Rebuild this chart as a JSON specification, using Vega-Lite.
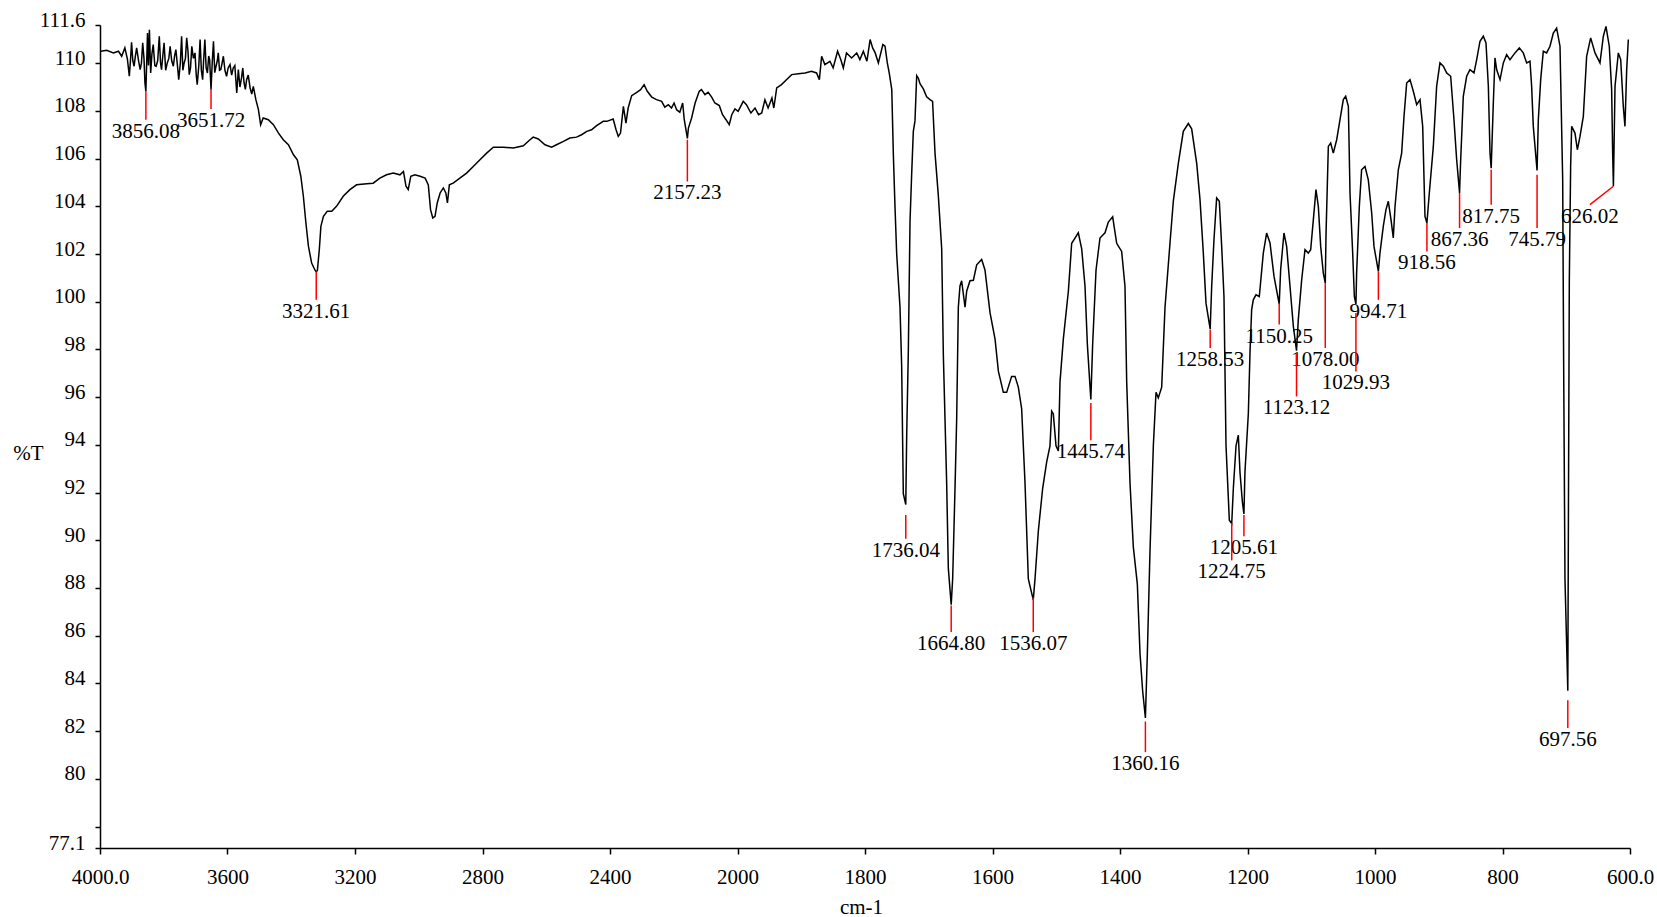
{
  "$schema": "https://vega.github.io/schema/vega-lite/v6.json",
  "width": 1530,
  "height": 823,
  "autosize": "none",
  "padding": {"left": 100, "top": 25, "right": 27, "bottom": 69},
  "background": "white",
  "config": {
    "view": {"stroke": null},
    "font": "Liberation Serif",
    "axis": {
      "grid": false,
      "labelFont": "Liberation Serif",
      "labelFontSize": 21,
      "labelColor": "black",
      "titleFont": "Liberation Serif",
      "titleFontSize": 21,
      "titleFontWeight": "normal",
      "titleColor": "black",
      "domainColor": "black",
      "tickColor": "black",
      "domainWidth": 1.5,
      "tickWidth": 1.5,
      "labelOverlap": false,
      "labelFlush": false
    }
  },
  "datasets": {
    "spectrum": [
      {"wn":4000,"T":110.5},{"wn":3997,"T":110.5},{"wn":3979,"T":110.54},{"wn":3958,"T":110.43},{"wn":3942,"T":110.5},{"wn":3932,"T":110.29},{"wn":3922,"T":110.64},{"wn":3914,"T":110.17},{"wn":3908,"T":109.45},{"wn":3904,"T":110.2},{"wn":3901,"T":110.87},{"wn":3897,"T":110.1},{"wn":3893,"T":109.87},{"wn":3889,"T":110.3},{"wn":3885,"T":110.64},{"wn":3879,"T":110.1},{"wn":3874,"T":109.73},{"wn":3870,"T":110.0},{"wn":3866,"T":110.85},{"wn":3862,"T":110.2},{"wn":3859,"T":109.17},{"wn":3856.08,"T":108.82},{"wn":3851,"T":111.26},{"wn":3848,"T":109.9},{"wn":3845,"T":111.4},{"wn":3841,"T":109.59},{"wn":3837,"T":110.4},{"wn":3833,"T":110.78},{"wn":3828,"T":109.9},{"wn":3824,"T":109.87},{"wn":3819,"T":110.1},{"wn":3814,"T":111.13},{"wn":3810,"T":110.0},{"wn":3807,"T":109.73},{"wn":3803,"T":110.3},{"wn":3799,"T":110.85},{"wn":3794,"T":109.7},{"wn":3789,"T":110.01},{"wn":3784,"T":110.2},{"wn":3780,"T":110.71},{"wn":3775,"T":110.1},{"wn":3770,"T":109.87},{"wn":3766,"T":110.3},{"wn":3762,"T":110.57},{"wn":3757,"T":109.9},{"wn":3753,"T":109.31},{"wn":3748,"T":110.0},{"wn":3744,"T":111.13},{"wn":3740,"T":109.7},{"wn":3736,"T":110.01},{"wn":3732,"T":110.2},{"wn":3728,"T":111.06},{"wn":3724,"T":110.5},{"wn":3720,"T":109.52},{"wn":3716,"T":109.8},{"wn":3712,"T":110.71},{"wn":3707,"T":110.2},{"wn":3702,"T":110.43},{"wn":3698,"T":109.5},{"wn":3695,"T":109.1},{"wn":3690,"T":109.9},{"wn":3686,"T":110.99},{"wn":3682,"T":109.7},{"wn":3678,"T":109.31},{"wn":3675,"T":110.1},{"wn":3671,"T":110.99},{"wn":3667,"T":109.8},{"wn":3663,"T":109.59},{"wn":3659,"T":110.3},{"wn":3656,"T":110.15},{"wn":3651.72,"T":108.89},{"wn":3648,"T":110.0},{"wn":3644,"T":110.92},{"wn":3640,"T":109.6},{"wn":3636,"T":109.87},{"wn":3632,"T":110.1},{"wn":3629,"T":110.43},{"wn":3625,"T":109.7},{"wn":3621,"T":109.73},{"wn":3617,"T":110.0},{"wn":3613,"T":110.29},{"wn":3608,"T":109.7},{"wn":3603,"T":109.45},{"wn":3598,"T":109.8},{"wn":3592,"T":109.94},{"wn":3587,"T":109.5},{"wn":3582,"T":109.8},{"wn":3577,"T":109.9},{"wn":3571,"T":108.75},{"wn":3566,"T":109.73},{"wn":3561,"T":109.0},{"wn":3556,"T":109.38},{"wn":3552,"T":109.8},{"wn":3548,"T":109.17},{"wn":3544,"T":108.9},{"wn":3540,"T":109.31},{"wn":3535,"T":109.5},{"wn":3529,"T":108.96},{"wn":3524,"T":108.7},{"wn":3519,"T":109.03},{"wn":3511,"T":108.47},{"wn":3503,"T":108.05},{"wn":3496,"T":107.42},{"wn":3488,"T":107.7},{"wn":3472,"T":107.63},{"wn":3456,"T":107.42},{"wn":3440,"T":107.07},{"wn":3425,"T":106.79},{"wn":3409,"T":106.58},{"wn":3393,"T":106.16},{"wn":3381,"T":105.95},{"wn":3370,"T":105.26},{"wn":3362,"T":104.42},{"wn":3354,"T":103.3},{"wn":3346,"T":102.32},{"wn":3336,"T":101.62},{"wn":3325,"T":101.31},{"wn":3321.61,"T":101.25},{"wn":3318,"T":101.31},{"wn":3312,"T":102.18},{"wn":3307,"T":103.16},{"wn":3299,"T":103.58},{"wn":3287,"T":103.79},{"wn":3273,"T":103.79},{"wn":3258,"T":104.0},{"wn":3237,"T":104.42},{"wn":3216,"T":104.7},{"wn":3195,"T":104.9},{"wn":3163,"T":104.95},{"wn":3143,"T":104.97},{"wn":3122,"T":105.18},{"wn":3101,"T":105.32},{"wn":3080,"T":105.39},{"wn":3059,"T":105.32},{"wn":3048,"T":105.46},{"wn":3040,"T":104.84},{"wn":3033,"T":104.7},{"wn":3025,"T":105.26},{"wn":3012,"T":105.32},{"wn":2996,"T":105.26},{"wn":2980,"T":105.18},{"wn":2970,"T":104.9},{"wn":2963,"T":103.86},{"wn":2956,"T":103.51},{"wn":2949,"T":103.58},{"wn":2942,"T":104.14},{"wn":2933,"T":104.56},{"wn":2923,"T":104.77},{"wn":2915,"T":104.56},{"wn":2910,"T":104.14},{"wn":2904,"T":104.9},{"wn":2892,"T":104.97},{"wn":2871,"T":105.18},{"wn":2850,"T":105.39},{"wn":2829,"T":105.67},{"wn":2808,"T":105.95},{"wn":2787,"T":106.23},{"wn":2766,"T":106.48},{"wn":2735,"T":106.48},{"wn":2703,"T":106.44},{"wn":2672,"T":106.54},{"wn":2651,"T":106.79},{"wn":2641,"T":106.9},{"wn":2625,"T":106.82},{"wn":2604,"T":106.58},{"wn":2583,"T":106.48},{"wn":2568,"T":106.58},{"wn":2546,"T":106.72},{"wn":2526,"T":106.86},{"wn":2505,"T":106.9},{"wn":2489,"T":107.0},{"wn":2473,"T":107.14},{"wn":2458,"T":107.21},{"wn":2442,"T":107.38},{"wn":2421,"T":107.56},{"wn":2410,"T":107.56},{"wn":2390,"T":107.66},{"wn":2381,"T":107.21},{"wn":2374,"T":106.93},{"wn":2367,"T":107.07},{"wn":2358,"T":108.19},{"wn":2350,"T":107.49},{"wn":2343,"T":108.12},{"wn":2332,"T":108.64},{"wn":2316,"T":108.78},{"wn":2304,"T":108.89},{"wn":2293,"T":109.1},{"wn":2283,"T":108.82},{"wn":2269,"T":108.58},{"wn":2254,"T":108.47},{"wn":2238,"T":108.4},{"wn":2228,"T":108.16},{"wn":2217,"T":108.26},{"wn":2207,"T":108.12},{"wn":2199,"T":108.33},{"wn":2191,"T":108.05},{"wn":2181,"T":107.94},{"wn":2172,"T":108.33},{"wn":2167,"T":107.63},{"wn":2157.23,"T":106.85},{"wn":2154,"T":107.28},{"wn":2144,"T":107.7},{"wn":2133,"T":108.33},{"wn":2120,"T":108.82},{"wn":2113,"T":108.89},{"wn":2102,"T":108.68},{"wn":2092,"T":108.78},{"wn":2081,"T":108.58},{"wn":2071,"T":108.33},{"wn":2057,"T":108.22},{"wn":2047,"T":107.84},{"wn":2036,"T":107.63},{"wn":2026,"T":107.42},{"wn":2018,"T":107.84},{"wn":2008,"T":108.08},{"wn":1999,"T":107.98},{"wn":1991,"T":108.4},{"wn":1986,"T":108.26},{"wn":1979,"T":107.91},{"wn":1972.5,"T":108.12},{"wn":1967,"T":107.84},{"wn":1962,"T":107.91},{"wn":1957,"T":108.47},{"wn":1952,"T":108.12},{"wn":1946,"T":108.54},{"wn":1943,"T":108.12},{"wn":1938.5,"T":108.96},{"wn":1931,"T":109.1},{"wn":1922,"T":109.34},{"wn":1915,"T":109.52},{"wn":1904.5,"T":109.56},{"wn":1894,"T":109.59},{"wn":1884,"T":109.66},{"wn":1876,"T":109.59},{"wn":1871.6,"T":109.31},{"wn":1868,"T":110.29},{"wn":1863,"T":109.94},{"wn":1855,"T":110.08},{"wn":1850,"T":109.8},{"wn":1843,"T":110.5},{"wn":1838,"T":110.15},{"wn":1834,"T":109.8},{"wn":1829,"T":110.43},{"wn":1821,"T":110.22},{"wn":1813,"T":110.43},{"wn":1808,"T":110.15},{"wn":1802.6,"T":110.5},{"wn":1797,"T":110.08},{"wn":1792,"T":110.99},{"wn":1788,"T":110.64},{"wn":1784,"T":110.43},{"wn":1779,"T":110.01},{"wn":1772,"T":110.78},{"wn":1768.6,"T":110.71},{"wn":1765,"T":110.01},{"wn":1762,"T":109.59},{"wn":1758,"T":108.89},{"wn":1755.6,"T":106.24},{"wn":1753,"T":104.01},{"wn":1750.3,"T":102.0},{"wn":1745.1,"T":99.77},{"wn":1742.5,"T":97.31},{"wn":1739.9,"T":91.95},{"wn":1736.04,"T":91.5},{"wn":1734.6,"T":94.41},{"wn":1732,"T":97.98},{"wn":1729.4,"T":103.34},{"wn":1726.8,"T":105.35},{"wn":1724.2,"T":107.14},{"wn":1721.6,"T":107.58},{"wn":1718.9,"T":109.48},{"wn":1716.3,"T":109.37},{"wn":1713.7,"T":109.14},{"wn":1708.5,"T":108.92},{"wn":1703.3,"T":108.59},{"wn":1698,"T":108.47},{"wn":1694,"T":108.4},{"wn":1690.2,"T":106.24},{"wn":1685,"T":104.46},{"wn":1679.7,"T":102.22},{"wn":1677.1,"T":97.76},{"wn":1671.9,"T":92.4},{"wn":1669.3,"T":88.83},{"wn":1664.8,"T":87.3},{"wn":1662.5,"T":88.38},{"wn":1658.8,"T":92.18},{"wn":1656.2,"T":95.08},{"wn":1653.6,"T":99.77},{"wn":1651,"T":100.66},{"wn":1648.4,"T":100.88},{"wn":1643.1,"T":99.77},{"wn":1640.5,"T":100.44},{"wn":1635.3,"T":100.88},{"wn":1630,"T":100.9},{"wn":1624.8,"T":101.55},{"wn":1617,"T":101.77},{"wn":1611.8,"T":101.33},{"wn":1603.9,"T":99.54},{"wn":1596,"T":98.43},{"wn":1590.8,"T":97.09},{"wn":1583,"T":96.2},{"wn":1577.8,"T":96.2},{"wn":1570,"T":96.87},{"wn":1564.7,"T":96.87},{"wn":1559.5,"T":96.42},{"wn":1554.3,"T":95.52},{"wn":1549,"T":92.4},{"wn":1543.8,"T":88.38},{"wn":1536.07,"T":87.5},{"wn":1533.3,"T":88.38},{"wn":1528.1,"T":90.39},{"wn":1521.3,"T":92.18},{"wn":1515,"T":93.29},{"wn":1509.8,"T":93.96},{"wn":1507.2,"T":95.41},{"wn":1504.6,"T":95.3},{"wn":1500.4,"T":93.96},{"wn":1496.7,"T":93.74},{"wn":1494.1,"T":96.64},{"wn":1488.9,"T":98.43},{"wn":1481,"T":100.44},{"wn":1475.8,"T":102.45},{"wn":1470.6,"T":102.67},{"wn":1465.4,"T":102.89},{"wn":1460.1,"T":102.22},{"wn":1454.9,"T":100.66},{"wn":1451.2,"T":98.21},{"wn":1445.74,"T":95.9},{"wn":1442.9,"T":98.21},{"wn":1437.6,"T":101.33},{"wn":1431.4,"T":102.67},{"wn":1423.5,"T":102.89},{"wn":1418.3,"T":103.34},{"wn":1411.5,"T":103.56},{"wn":1405.2,"T":102.45},{"wn":1397.4,"T":102.11},{"wn":1392.2,"T":100.66},{"wn":1389.5,"T":96.64},{"wn":1384.3,"T":92.4},{"wn":1379.1,"T":89.72},{"wn":1372.8,"T":88.16},{"wn":1368.6,"T":85.25},{"wn":1364.5,"T":83.69},{"wn":1360.16,"T":82.55},{"wn":1357.1,"T":85.25},{"wn":1353,"T":89.5},{"wn":1347.7,"T":93.96},{"wn":1343.5,"T":96.2},{"wn":1339.9,"T":95.97},{"wn":1334.6,"T":96.42},{"wn":1329.4,"T":99.77},{"wn":1321.6,"T":102.45},{"wn":1316.3,"T":104.23},{"wn":1308.5,"T":105.8},{"wn":1300.7,"T":107.14},{"wn":1292.8,"T":107.47},{"wn":1287.6,"T":107.25},{"wn":1279.7,"T":105.8},{"wn":1274.5,"T":104.28},{"wn":1269.3,"T":102.04},{"wn":1265.1,"T":99.94},{"wn":1258.53,"T":98.85},{"wn":1256.2,"T":100.64},{"wn":1252.6,"T":102.6},{"wn":1248.4,"T":104.35},{"wn":1244.2,"T":104.21},{"wn":1240.5,"T":102.32},{"wn":1236.9,"T":100.22},{"wn":1233.7,"T":93.96},{"wn":1228.5,"T":90.84},{"wn":1224.75,"T":90.7},{"wn":1222.2,"T":92.18},{"wn":1218,"T":93.96},{"wn":1214.4,"T":94.41},{"wn":1211.8,"T":92.85},{"wn":1208,"T":91.6},{"wn":1205.61,"T":91.1},{"wn":1204,"T":92.85},{"wn":1198.7,"T":95.3},{"wn":1196.1,"T":97.85},{"wn":1193.5,"T":99.66},{"wn":1190.9,"T":100.08},{"wn":1186.7,"T":100.29},{"wn":1181.5,"T":100.22},{"wn":1175.2,"T":102.04},{"wn":1170,"T":102.88},{"wn":1164.7,"T":102.46},{"wn":1158.4,"T":101.06},{"wn":1150.25,"T":99.9},{"wn":1148,"T":101.34},{"wn":1142.8,"T":102.88},{"wn":1138.6,"T":102.32},{"wn":1133.3,"T":100.64},{"wn":1128.1,"T":98.97},{"wn":1123.12,"T":97.95},{"wn":1120.3,"T":99.25},{"wn":1115,"T":100.92},{"wn":1109.8,"T":102.18},{"wn":1104.6,"T":102.04},{"wn":1100.9,"T":102.18},{"wn":1096.7,"T":103.44},{"wn":1092.6,"T":104.7},{"wn":1088.9,"T":104.0},{"wn":1085.2,"T":102.32},{"wn":1081.1,"T":101.2},{"wn":1078,"T":100.78},{"wn":1076.9,"T":102.74},{"wn":1073.2,"T":106.51},{"wn":1069.5,"T":106.65},{"wn":1065.4,"T":106.23},{"wn":1060.1,"T":106.79},{"wn":1054.9,"T":107.63},{"wn":1049.7,"T":108.47},{"wn":1046,"T":108.61},{"wn":1041.8,"T":108.19},{"wn":1039.2,"T":104.56},{"wn":1035,"T":102.04},{"wn":1032.4,"T":100.22},{"wn":1029.93,"T":99.9},{"wn":1028.8,"T":101.2},{"wn":1024.6,"T":103.99},{"wn":1021,"T":105.53},{"wn":1015.7,"T":105.67},{"wn":1010.5,"T":105.11},{"wn":1005.2,"T":103.72},{"wn":1001.6,"T":102.32},{"wn":994.71,"T":101.27},{"wn":992.2,"T":102.04},{"wn":987,"T":103.16},{"wn":982.8,"T":103.86},{"wn":979.1,"T":104.21},{"wn":974.9,"T":103.44},{"wn":971.3,"T":102.67},{"wn":968.6,"T":103.99},{"wn":963.4,"T":105.53},{"wn":958.2,"T":106.23},{"wn":954.5,"T":107.77},{"wn":950.3,"T":109.17},{"wn":945.1,"T":109.31},{"wn":939.9,"T":108.82},{"wn":934.6,"T":108.26},{"wn":929.4,"T":108.47},{"wn":925.2,"T":107.35},{"wn":921.6,"T":103.58},{"wn":918.56,"T":103.3},{"wn":914.8,"T":104.56},{"wn":908.5,"T":106.51},{"wn":903.3,"T":109.03},{"wn":898.1,"T":110.01},{"wn":892.8,"T":109.87},{"wn":887.6,"T":109.59},{"wn":881.3,"T":109.45},{"wn":876.1,"T":107.63},{"wn":871.9,"T":105.95},{"wn":867.36,"T":104.56},{"wn":866,"T":105.67},{"wn":861.5,"T":108.61},{"wn":856.2,"T":109.45},{"wn":851,"T":109.73},{"wn":844.7,"T":109.59},{"wn":840.5,"T":110.15},{"wn":835.3,"T":110.92},{"wn":830.1,"T":111.13},{"wn":825.9,"T":110.85},{"wn":822.2,"T":109.03},{"wn":819.6,"T":106.23},{"wn":817.75,"T":105.6},{"wn":814.4,"T":108.33},{"wn":811.8,"T":110.22},{"wn":809.2,"T":109.73},{"wn":803.9,"T":109.31},{"wn":798.7,"T":110.01},{"wn":793.5,"T":110.36},{"wn":788.3,"T":110.15},{"wn":780.4,"T":110.43},{"wn":773.6,"T":110.64},{"wn":767.4,"T":110.43},{"wn":762.1,"T":110.01},{"wn":756.9,"T":110.08},{"wn":754.3,"T":109.03},{"wn":751.7,"T":107.35},{"wn":745.79,"T":105.5},{"wn":743.8,"T":107.63},{"wn":740.1,"T":109.31},{"wn":736,"T":110.5},{"wn":730.8,"T":110.43},{"wn":725.5,"T":110.71},{"wn":720.3,"T":111.26},{"wn":715.1,"T":111.47},{"wn":709.8,"T":110.71},{"wn":705.6,"T":105.13},{"wn":704.1,"T":97.53},{"wn":702,"T":88.38},{"wn":697.56,"T":83.69},{"wn":696.5,"T":91.73},{"wn":695.2,"T":100.88},{"wn":693.1,"T":105.7},{"wn":691.5,"T":107.35},{"wn":686.3,"T":107.07},{"wn":682.6,"T":106.37},{"wn":678.4,"T":106.93},{"wn":673.2,"T":107.77},{"wn":668,"T":110.29},{"wn":661.7,"T":111.06},{"wn":654.9,"T":110.43},{"wn":647.1,"T":110.01},{"wn":641.8,"T":111.13},{"wn":637.7,"T":111.54},{"wn":632.5,"T":110.71},{"wn":628.8,"T":108.89},{"wn":627.2,"T":106.23},{"wn":626.02,"T":104.84},{"wn":623.5,"T":109.03},{"wn":618.3,"T":110.43},{"wn":614.6,"T":110.15},{"wn":610.5,"T":108.19},{"wn":607.9,"T":107.35},{"wn":605.2,"T":109.73},{"wn":602.6,"T":110.99}
    ],
    "peaks": [
      {"wn":3856.08,"T":108.82,"wn2":3856.08,"T2":107.63,"label":"3856.08"},
      {"wn":3651.72,"T":108.89,"wn2":3651.72,"T2":108.08,"label":"3651.72"},
      {"wn":3321.61,"T":101.27,"wn2":3321.61,"T2":100.08,"label":"3321.61"},
      {"wn":2157.23,"T":106.79,"wn2":2157.23,"T2":105.04,"label":"2157.23"},
      {"wn":1736.04,"T":91.06,"wn2":1736.04,"T2":90.06,"label":"1736.04"},
      {"wn":1664.80,"T":87.27,"wn2":1664.80,"T2":86.15,"label":"1664.80"},
      {"wn":1536.07,"T":87.6,"wn2":1536.07,"T2":86.15,"label":"1536.07"},
      {"wn":1445.74,"T":95.75,"wn2":1445.74,"T2":94.19,"label":"1445.74"},
      {"wn":1360.16,"T":82.4,"wn2":1360.16,"T2":81.12,"label":"1360.16"},
      {"wn":1258.53,"T":98.82,"wn2":1258.53,"T2":98.06,"label":"1258.53"},
      {"wn":1224.75,"T":90.72,"wn2":1224.75,"T2":89.16,"label":"1224.75"},
      {"wn":1205.61,"T":91.06,"wn2":1205.61,"T2":90.17,"label":"1205.61"},
      {"wn":1150.25,"T":99.94,"wn2":1150.25,"T2":99.04,"label":"1150.25"},
      {"wn":1123.12,"T":97.85,"wn2":1123.12,"T2":96.03,"label":"1123.12"},
      {"wn":1078.00,"T":100.78,"wn2":1078.00,"T2":98.06,"label":"1078.00"},
      {"wn":1029.93,"T":99.53,"wn2":1029.93,"T2":97.08,"label":"1029.93"},
      {"wn":994.71,"T":101.27,"wn2":994.71,"T2":100.08,"label":"994.71"},
      {"wn":918.56,"T":103.3,"wn2":918.56,"T2":102.11,"label":"918.56"},
      {"wn":867.36,"T":104.56,"wn2":867.36,"T2":103.09,"label":"867.36"},
      {"wn":817.75,"T":105.53,"wn2":817.75,"T2":104.07,"label":"817.75"},
      {"wn":745.79,"T":105.32,"wn2":745.79,"T2":103.09,"label":"745.79"},
      {"wn":697.56,"T":83.29,"wn2":697.56,"T2":82.13,"label":"697.56"},
      {"wn":626.02,"T":104.84,"wn2":662.8,"T2":104.07,"label":"626.02"}
    ]
  },
  "layer": [
    {
      "data": {"name": "peaks"},
      "mark": {"type": "text", "baseline": "top", "align": "center", "dy": 1, "fontSize": 21, "font": "Liberation Serif", "color": "black"},
      "encoding": {
        "x": {"field": "wn2", "type": "quantitative"},
        "y": {"field": "T2", "type": "quantitative"},
        "text": {"field": "label", "type": "nominal"}
      }
    },
    {
      "data": {"name": "spectrum"},
      "mark": {"type": "line", "color": "black", "strokeWidth": 1.5, "interpolate": "linear"},
      "encoding": {
        "x": {
          "field": "wn", "type": "quantitative",
          "scale": {"domain": [4000, 2000, 600], "range": [0, 637.5, 1530], "nice": false, "zero": false},
          "axis": {
            "values": [4000, 3600, 3200, 2800, 2400, 2000, 1800, 1600, 1400, 1200, 1000, 800, 600],
            "labelExpr": "datum.value == 4000 ? '4000.0' : datum.value == 600 ? '600.0' : '' + datum.value",
            "tickSize": 6,
            "labelPadding": 12,
            "title": "cm-1",
            "titleX": 761,
            "titleY": 59,
            "titleAlign": "center",
            "titleBaseline": "middle"
          }
        },
        "y": {
          "field": "T", "type": "quantitative",
          "scale": {"domain": [77.1, 111.6], "nice": false, "zero": false},
          "axis": {
            "values": [77.1, 78, 80, 82, 84, 86, 88, 90, 92, 94, 96, 98, 100, 102, 104, 106, 108, 110, 111.6],
            "labelExpr": "datum.value == 78 ? '' : '' + datum.value",
            "tickSize": 5,
            "labelPadding": 10,
            "labelOffset": -5,
            "title": "%T",
            "titleAngle": 0,
            "titleX": -72,
            "titleY": 428,
            "titleAlign": "center",
            "titleBaseline": "middle"
          }
        }
      }
    },
    {
      "data": {"name": "peaks"},
      "mark": {"type": "rule", "color": "#ff0000", "strokeWidth": 1.5},
      "encoding": {
        "x": {"field": "wn", "type": "quantitative"},
        "y": {"field": "T", "type": "quantitative"},
        "x2": {"field": "wn2"},
        "y2": {"field": "T2"}
      }
    }
  ]
}
